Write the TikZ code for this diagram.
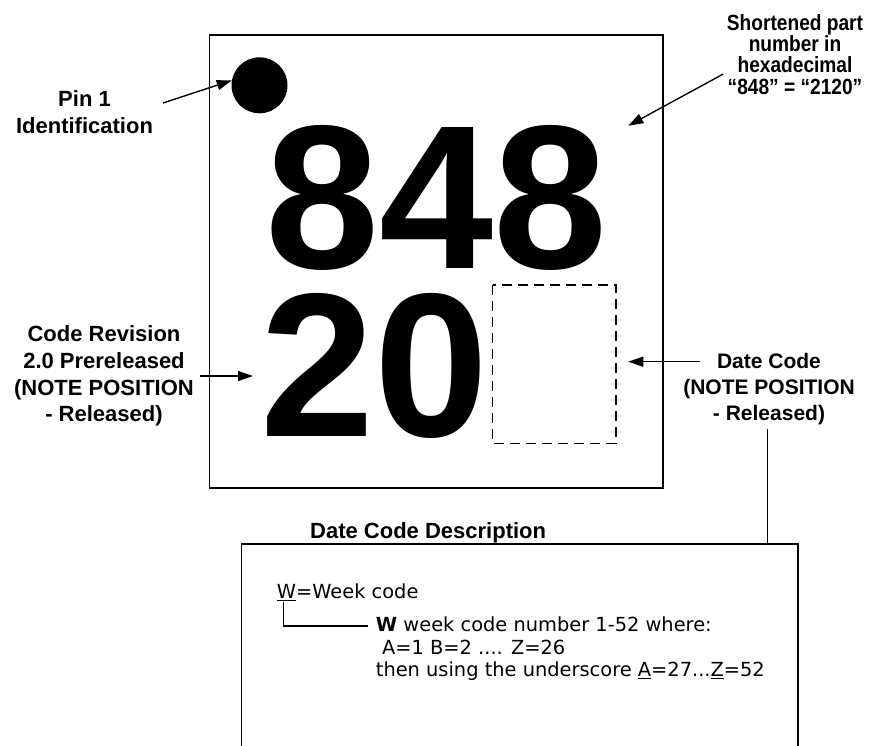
\documentclass[tikz,border=0pt]{standalone}
\usepackage{fontspec}
\setmainfont{Liberation Sans}
\newfontfamily\descfont{DejaVu Sans}
\newfontfamily\condfont{Liberation Sans}[FakeStretch=0.87]
\usetikzlibrary{arrows.meta}
\begin{document}
\begin{tikzpicture}[x=1pt,y=-1pt,
  arr/.style={line width=1.4pt,-{Triangle[length=15pt,width=10pt]}},
  lbl/.style={font=\fontsize{22}{26.6}\selectfont\bfseries, align=center, inner sep=0pt, anchor=base},
  rlbl/.style={font=\condfont\fontsize{22}{21.3}\selectfont\bfseries, align=center, inner sep=0pt, anchor=base},
  big/.style={font=\fontsize{205}{205}\selectfont\bfseries, inner sep=0pt, anchor=base},
  desc/.style={font=\descfont\fontsize{19.4}{22.5}\selectfont, inner sep=0pt, anchor=base west, align=left},
  frame/.style={line width=1.5pt}]
\useasboundingbox (0,0) rectangle (874,745);

% chip outline
\draw[frame] (209.5,35) rectangle (663,488);
\node[fill=black, circle, minimum size=56pt, inner sep=0pt] (pin) at (259.5,85.3) {};
\node[big] (pn) at (436.3,268.5) {848};
\node[big] (rev) at (375,436.5) {20};
\draw[line width=1.3pt, dash pattern=on 10pt off 6pt] (492.7,285) rectangle (616,443.3);

% labels (anchor base = last line)
\node[lbl] (pinlbl) at (84.5,133.3) {Pin 1\\Identification};
\node[rlbl] (pnlbl) at (795,94) {Shortened part\\number in\\hexadecimal\\“848” = “2120”};
\node[lbl] (revlbl) at (104,421.7) {Code Revision\\2.0 Prereleased\\(NOTE POSITION\\- Released)};
\node[lbl, font=\fontsize{21}{26}\selectfont\bfseries] (dclbl) at (769,420) {Date Code\\(NOTE POSITION\\- Released)};

% arrows
\coordinate (a1) at (163,103);
\draw[arr] (a1) -- (pin.170);
\coordinate (a2) at (723.3,74);
\coordinate (a2t) at (628.3,125.7);
\draw[arr] (a2) -- (a2t);
\coordinate (a3) at (200,376);
\coordinate (a3t) at (253,376);
\draw[arr] (a3) -- (a3t);
\coordinate (a4) at (700,361.7);
\coordinate (a4t) at (628.3,361.7);
\draw[arr] (a4) -- (a4t);

% description box
\node[lbl, anchor=base west] (dcd) at (310,538) {Date Code Description};
\draw[frame] (241.7,746) |- (798,544) -- (798,746);
\coordinate (v1) at (767.5,429.3);
\coordinate (v2) at (767.5,544);
\draw[line width=1.3pt] (v1) -- (v2);

\node[desc] (wk) at (276.7,598.3) {\underline{W}=Week code};
\node[desc] (wdesc) at (375.7,676.7) {\textbf{W} week code number 1-52 where:\\~A=1 B=2 .... Z=26\\then using the underscore \underline{A}=27...\underline{Z}=52};
\coordinate (wt) at (283.3,601.5);
\coordinate (we) at (368,626);
\draw[line width=1.3pt] (wt) |- (we);
\end{tikzpicture}
\end{document}
